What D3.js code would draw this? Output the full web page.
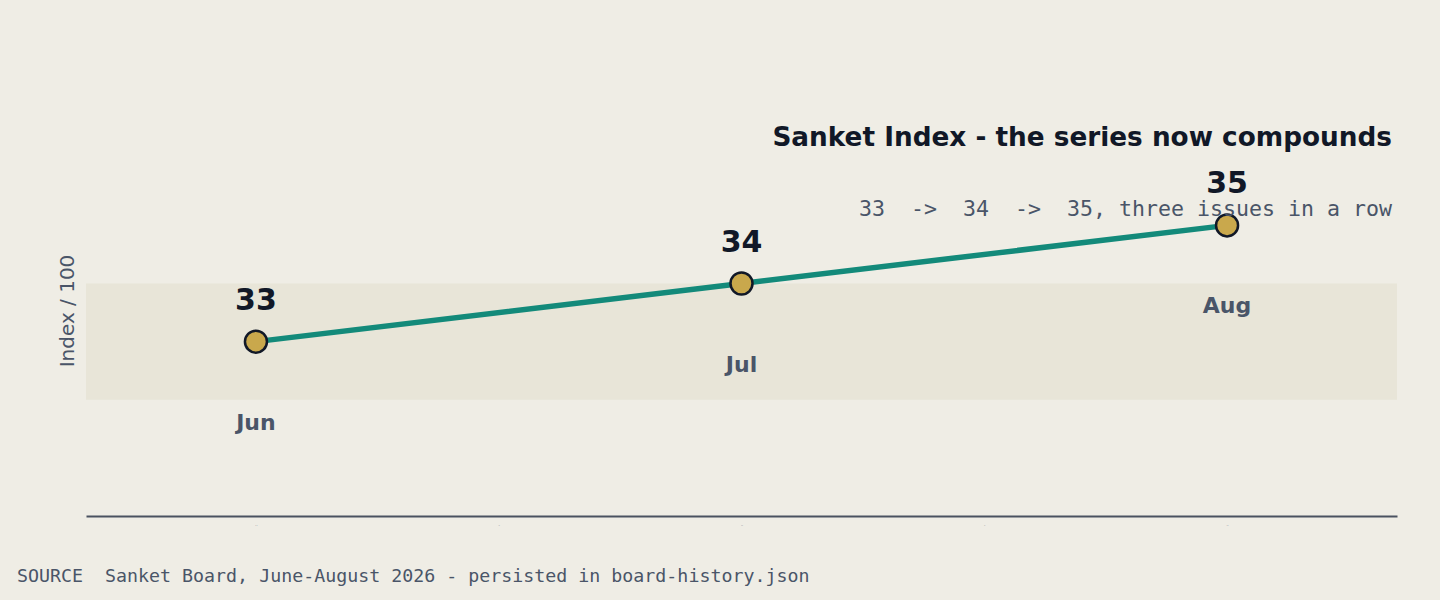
<!DOCTYPE html>
<html lang="en">
<head>
    <meta charset="UTF-8">
    <title>Sanket Index</title>
    <script src="https://d3js.org/d3.v7.min.js"></script>
    <style>
        body { margin: 0; background: #efede5; }
        svg { display: block; font-family: "DejaVu Sans", sans-serif; }
        .mono { font-family: "DejaVu Sans Mono", monospace; }
    </style>
</head>
<body>
<div id="chart"></div>
<script>
    const months = ["Jun", "Jul", "Aug"];
    const values = [33, 34, 35];
    const band = [32, 34];
    const axisTicks = [0, 0.5, 1, 1.5, 2];
    const title = "Sanket Index - the series now compounds";
    const subtitle = "33  ->  34  ->  35, three issues in a row";
    const source = "SOURCE  Sanket Board, June-August 2026 - persisted in board-history.json";

    const W = 1440, H = 600;
    const margin = { top: 51, right: 43, bottom: 84, left: 86 };

    const x = d3.scaleLinear().domain([-0.35, 2.35]).range([margin.left, W - margin.right]);
    const y = d3.scaleLinear().domain([30, 38]).range([H - margin.bottom, margin.top]);

    const svg = d3.select("#chart").append("svg").attr("width", W).attr("height", H);
    svg.append("rect").attr("width", W).attr("height", H).attr("fill", "#efede5");

    // shaded band
    svg.append("rect")
        .attr("x", margin.left)
        .attr("width", W - margin.right - margin.left)
        .attr("y", y(band[1]))
        .attr("height", y(band[0]) - y(band[1]))
        .attr("fill", "#e8e5d8");

    // x axis with near-invisible labels
    const ax = svg.append("g")
        .attr("transform", `translate(0,${y(30)})`)
        .call(d3.axisBottom(x).tickValues(axisTicks).tickSize(0).tickPadding(7).tickFormat(d => d % 1 ? "-" : ".."));
    ax.select(".domain").attr("stroke", "#4a5260").attr("stroke-width", 2);
    ax.selectAll(".tick text").attr("font-size", 4).attr("fill", "#4a5568");

    // line
    svg.append("path")
        .datum(values)
        .attr("fill", "none")
        .attr("stroke", "#138a7a")
        .attr("stroke-width", 5.5)
        .attr("d", d3.line().x((d, i) => x(i)).y(d => y(d)));

    svg.selectAll(".dot")
        .data(values).enter().append("circle")
        .attr("cx", (d, i) => x(i))
        .attr("cy", d => y(d))
        .attr("r", 11)
        .attr("fill", "#c9a84c")
        .attr("stroke", "#111827")
        .attr("stroke-width", 2.5);

    svg.selectAll(".val")
        .data(values).enter().append("text")
        .attr("x", (d, i) => x(i))
        .attr("y", d => y(d) - 32)
        .attr("text-anchor", "middle")
        .attr("font-size", 30)
        .attr("font-weight", "bold")
        .attr("fill", "#111827")
        .text(d => d);

    svg.selectAll(".mon")
        .data(values).enter().append("text")
        .attr("x", (d, i) => x(i))
        .attr("y", d => y(d) + 88)
        .attr("text-anchor", "middle")
        .attr("font-size", 22)
        .attr("font-weight", "bold")
        .attr("fill", "#4a5568")
        .text((d, i) => months[i]);

    // titles
    svg.append("text")
        .attr("x", 1392).attr("y", 146)
        .attr("text-anchor", "end")
        .attr("font-size", 26.3)
        .attr("font-weight", "bold")
        .attr("fill", "#111827")
        .text(title);

    svg.append("text")
        .attr("class", "mono")
        .attr("x", 1392).attr("y", 216)
        .attr("text-anchor", "end")
        .attr("font-size", 21.6)
        .attr("fill", "#4a5568")
        .style("white-space", "pre")
        .text(subtitle);

    svg.append("text")
        .attr("transform", `translate(74,${311}) rotate(-90)`)
        .attr("text-anchor", "middle")
        .attr("font-size", 20)
        .attr("fill", "#4a5568")
        .text("Index / 100");

    svg.append("text")
        .attr("class", "mono")
        .attr("x", 17).attr("y", 582)
        .attr("font-size", 18.3)
        .attr("fill", "#4a5568")
        .style("white-space", "pre")
        .text(source);
</script>
</body>
</html>
